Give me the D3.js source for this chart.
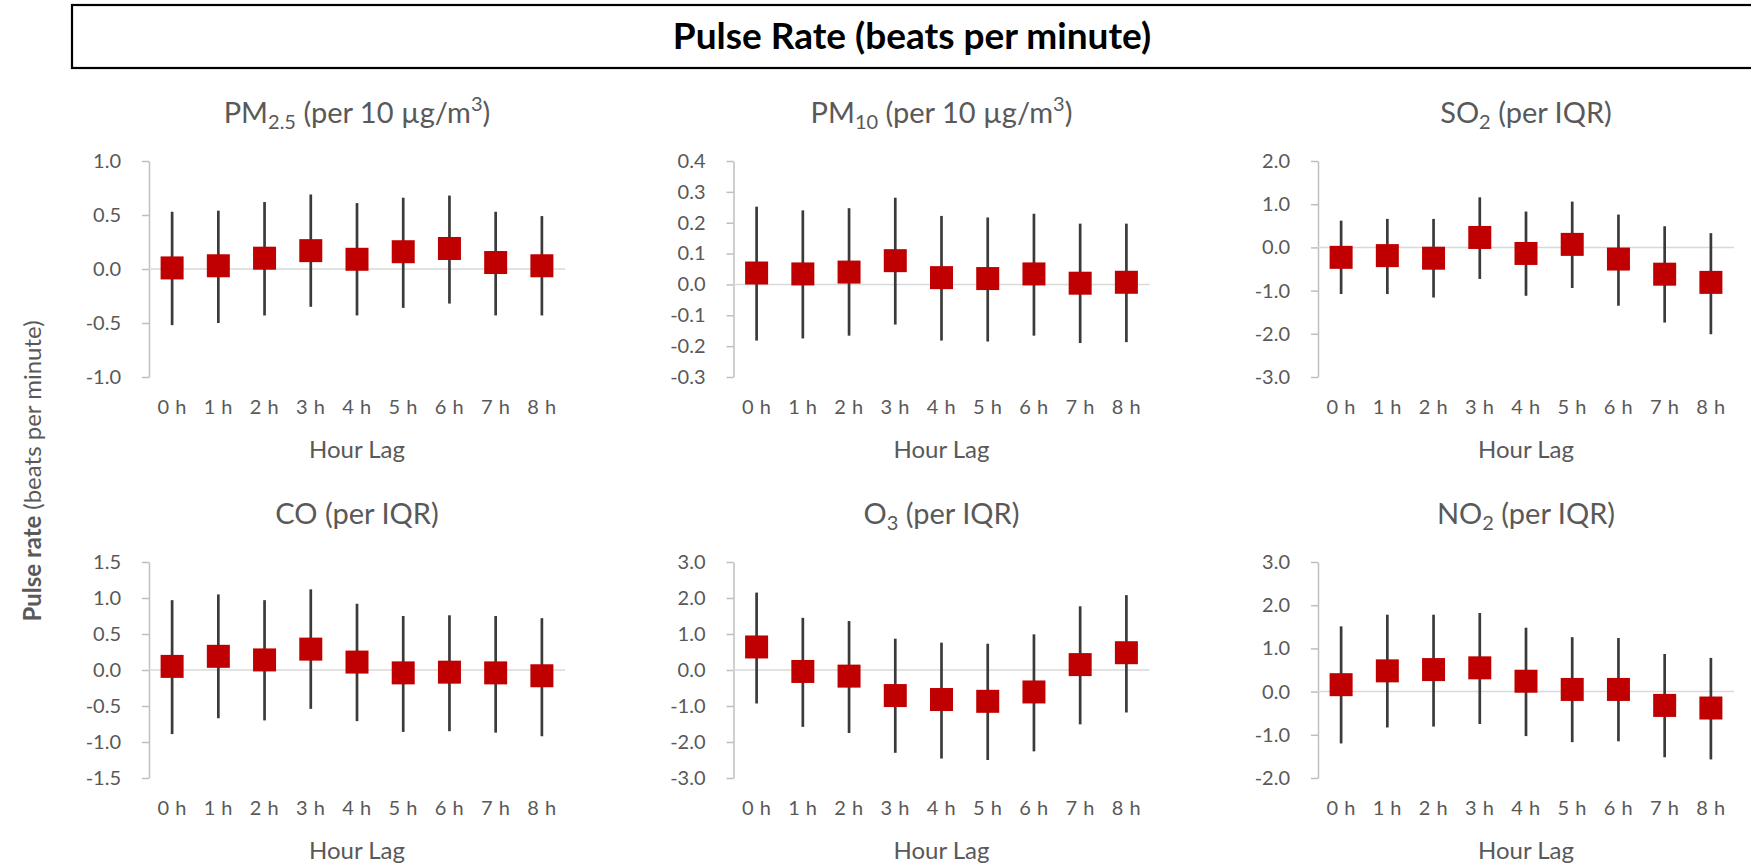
<!DOCTYPE html>
<html>
<head>
<meta charset="utf-8">
<script src="https://cdn.jsdelivr.net/npm/d3@7"></script>
<style>
  body { margin: 0; background: #fff; }
  svg { display: block; font-family: Lato, "Open Sans", sans-serif; }
</style>
</head>
<body>
<svg id="chart" width="1751" height="867"></svg>
<script>
// lags on the x axis
const hours = ["0 h", "1 h", "2 h", "3 h", "4 h", "5 h", "6 h", "7 h", "8 h"];

// estimates and 95% CI
const pm25Est = [0.01, 0.03, 0.10, 0.17, 0.09, 0.16, 0.19, 0.06, 0.03];
const pm25Lo  = [-0.52, -0.50, -0.43, -0.35, -0.43, -0.36, -0.32, -0.43, -0.43];
const pm25Hi  = [0.53, 0.54, 0.62, 0.69, 0.61, 0.66, 0.68, 0.53, 0.49];

const pm10Est = [0.037, 0.034, 0.040, 0.077, 0.022, 0.019, 0.034, 0.004, 0.007];
const pm10Lo  = [-0.182, -0.175, -0.166, -0.130, -0.182, -0.185, -0.166, -0.190, -0.187];
const pm10Hi  = [0.252, 0.240, 0.247, 0.281, 0.222, 0.217, 0.229, 0.197, 0.197];

const so2Est = [-0.23, -0.19, -0.25, 0.23, -0.14, 0.07, -0.27, -0.62, -0.81];
const so2Lo  = [-1.08, -1.08, -1.16, -0.73, -1.12, -0.94, -1.35, -1.74, -2.01];
const so2Hi  = [0.62, 0.66, 0.66, 1.16, 0.83, 1.06, 0.76, 0.49, 0.33];

const coEst = [0.05, 0.19, 0.14, 0.29, 0.11, -0.04, -0.03, -0.04, -0.08];
const coLo  = [-0.89, -0.67, -0.70, -0.54, -0.71, -0.86, -0.85, -0.87, -0.92];
const coHi  = [0.97, 1.05, 0.97, 1.12, 0.92, 0.75, 0.76, 0.75, 0.72];

const o3Est = [0.64, -0.04, -0.17, -0.71, -0.82, -0.87, -0.61, 0.15, 0.48];
const o3Lo  = [-0.93, -1.58, -1.75, -2.30, -2.46, -2.50, -2.26, -1.51, -1.18];
const o3Hi  = [2.15, 1.45, 1.36, 0.87, 0.76, 0.73, 0.99, 1.77, 2.08];

const no2Est = [0.16, 0.48, 0.51, 0.55, 0.24, 0.05, 0.05, -0.32, -0.38];
const no2Lo  = [-1.20, -0.83, -0.81, -0.75, -1.03, -1.17, -1.15, -1.52, -1.57];
const no2Hi  = [1.51, 1.78, 1.78, 1.82, 1.48, 1.26, 1.24, 0.87, 0.78];

// y tick values for each panel
const pm25Ticks = [-1.0, -0.5, 0.0, 0.5, 1.0];
const pm10Ticks = [-0.3, -0.2, -0.1, 0.0, 0.1, 0.2, 0.3, 0.4];
const so2Ticks  = [-3, -2, -1, 0, 1, 2];
const coTicks   = [-1.5, -1.0, -0.5, 0.0, 0.5, 1.0, 1.5];
const o3Ticks   = [-3, -2, -1, 0, 1, 2, 3];
const no2Ticks  = [-2, -1, 0, 1, 2, 3];

// title pieces: [text, "sub"/"sup"/null]
const panels = [
  { title: [["PM", null], ["2.5", "sub"], [" (per 10 µg/m", null], ["3", "sup"], [")", null]],
    est: pm25Est, lo: pm25Lo, hi: pm25Hi, ticks: pm25Ticks },
  { title: [["PM", null], ["10", "sub"], [" (per 10 µg/m", null], ["3", "sup"], [")", null]],
    est: pm10Est, lo: pm10Lo, hi: pm10Hi, ticks: pm10Ticks },
  { title: [["SO", null], ["2", "sub"], [" (per IQR)", null]],
    est: so2Est, lo: so2Lo, hi: so2Hi, ticks: so2Ticks },
  { title: [["CO (per IQR)", null]],
    est: coEst, lo: coLo, hi: coHi, ticks: coTicks },
  { title: [["O", null], ["3", "sub"], [" (per IQR)", null]],
    est: o3Est, lo: o3Lo, hi: o3Hi, ticks: o3Ticks },
  { title: [["NO", null], ["2", "sub"], [" (per IQR)", null]],
    est: no2Est, lo: no2Lo, hi: no2Hi, ticks: no2Ticks }
];

const svg = d3.select("#chart");
const grey = "#595959";
const fmt = v => d3.format(".1f")(v).replace("−", "-");

// header box
svg.append("rect")
  .attr("x", 72).attr("y", 5)
  .attr("width", 1700).attr("height", 63)
  .attr("fill", "#fff")
  .attr("stroke", "#000")
  .attr("stroke-width", 2.2);
svg.append("text")
  .attr("x", 912).attr("y", 49)
  .attr("text-anchor", "middle")
  .attr("font-size", 37)
  .attr("font-weight", "bold")
  .attr("fill", "#000")
  .text("Pulse Rate (beats per minute)");

// shared y label
const yLab = svg.append("text")
  .attr("transform", "translate(31,471) rotate(-90)")
  .attr("text-anchor", "middle")
  .attr("dominant-baseline", "central")
  .attr("font-size", 24)
  .attr("fill", grey);
yLab.append("tspan").attr("font-weight", "bold").text("Pulse rate ");
yLab.append("tspan").text("(beats per minute)");

const colX = [149, 733.5, 1318];
const rowY = [161, 562];
const plotW = 416, plotH = 216;

panels.forEach((p, i) => {
  const x0 = colX[i % 3], y0 = rowY[Math.floor(i / 3)];
  const g = svg.append("g");

  const x = d3.scaleBand().domain(hours).range([x0, x0 + plotW]);
  const y = d3.scaleLinear()
    .domain(d3.extent(p.ticks))
    .range([y0 + plotH, y0]);

  // title, with sub/superscripts
  const t = g.append("text")
    .attr("x", x0 + plotW / 2).attr("y", y0 - 38)
    .attr("text-anchor", "middle")
    .attr("font-size", 29)
    .attr("fill", grey);
  let shift = 0;
  p.title.forEach(([s, kind]) => {
    const target = kind === "sub" ? 6 : kind === "sup" ? -12 : 0;
    const ts = t.append("tspan").text(s).attr("dy", target - shift);
    if (kind) ts.attr("font-size", 20);
    shift = target;
  });

  // y axis
  const ax = g.append("g")
    .attr("transform", `translate(${x0},0)`)
    .call(d3.axisLeft(y).tickValues(p.ticks).tickFormat(fmt)
      .tickSize(7).tickSizeOuter(0).tickPadding(21));
  ax.select(".domain").attr("stroke", "#bfbfbf").attr("stroke-width", 1.5);
  ax.selectAll(".tick line").attr("stroke", "#bfbfbf").attr("stroke-width", 1.5);
  ax.selectAll(".tick text")
    .attr("fill", grey)
    .attr("font-size", 20)
    .attr("font-family", "Lato, sans-serif");

  // zero line (horizontal axis)
  g.append("line")
    .attr("x1", x0).attr("x2", x0 + plotW)
    .attr("y1", y(0)).attr("y2", y(0))
    .attr("stroke", "#d9d9d9")
    .attr("stroke-width", 1.5);

  // x labels
  g.selectAll(".xl")
    .data(hours)
    .enter()
    .append("text")
    .attr("x", d => x(d) + x.bandwidth() / 2)
    .attr("y", y0 + plotH + 37)
    .attr("text-anchor", "middle")
    .attr("font-size", 20)
    .attr("letter-spacing", 0.5)
    .attr("fill", grey)
    .text(d => d);

  g.append("text")
    .attr("x", x0 + plotW / 2)
    .attr("y", y0 + plotH + 81)
    .attr("text-anchor", "middle")
    .attr("font-size", 24)
    .attr("fill", grey)
    .text("Hour Lag");

  // error bars
  g.selectAll(".ci")
    .data(hours)
    .enter()
    .append("line")
    .attr("x1", d => x(d) + x.bandwidth() / 2)
    .attr("x2", d => x(d) + x.bandwidth() / 2)
    .attr("y1", (d, k) => y(p.lo[k]))
    .attr("y2", (d, k) => y(p.hi[k]))
    .attr("stroke", "#3a3a3a")
    .attr("stroke-width", 2.7);

  // point estimates
  g.selectAll(".pt")
    .data(hours)
    .enter()
    .append("rect")
    .attr("x", d => x(d) + x.bandwidth() / 2 - 11.5)
    .attr("y", (d, k) => y(p.est[k]) - 11.5)
    .attr("width", 23)
    .attr("height", 23)
    .attr("fill", "#c00000");
});
</script>
</body>
</html>
